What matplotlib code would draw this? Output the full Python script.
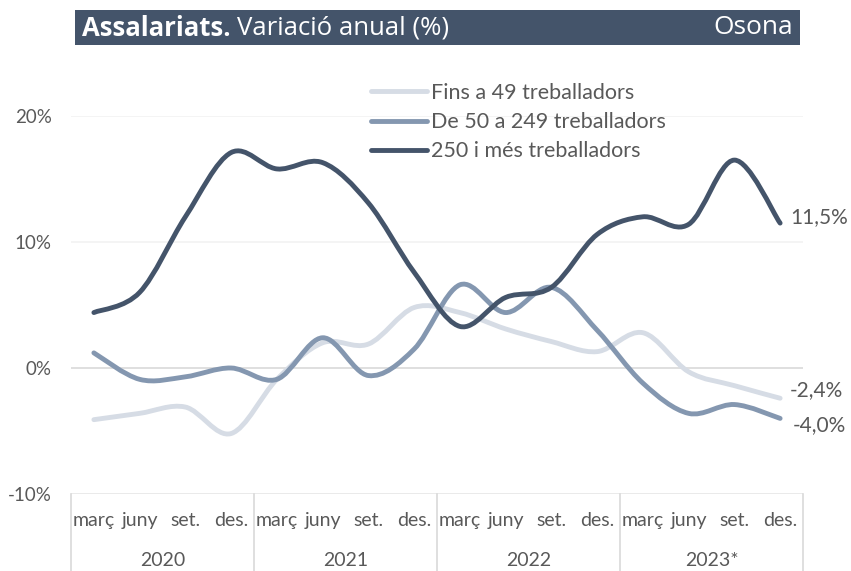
import matplotlib
matplotlib.use("Agg")
import matplotlib.pyplot as plt
import numpy as np
from matplotlib.path import Path
from matplotlib.patches import PathPatch, Rectangle
import matplotlib.transforms as mtransforms

# data (quarterly, % annual change)
months = ['març', 'juny', 'set.', 'des.']
years = ['2020', '2021', '2022', '2023*']
fins_49 = [-4.1, -3.6, -3.1, -5.2, -0.9, 2.0, 1.9, 4.8, 4.4, 3.1, 2.1, 1.3, 2.8, -0.3, -1.4, -2.4]
de_50_249 = [1.2, -0.9, -0.7, 0.0, -0.9, 2.4, -0.6, 1.5, 6.6, 4.4, 6.4, 3.0, -1.2, -3.6, -2.9, -4.0]
mes_250 = [4.4, 6.0, 12.0, 17.1, 15.8, 16.3, 13.1, 7.6, 3.3, 5.6, 6.4, 10.6, 12.0, 11.4, 16.5, 11.5]

series_names = ['Fins a 49 treballadors', 'De 50 a 249 treballadors', '250 i més treballadors']
series_colors = ['#D6DCE5', '#8497B0', '#44546A']

text_col = '#595959'
plt.rcParams['font.family'] = ['Lato', 'DejaVu Sans']


def smooth_path(xs, ys):
    # Excel-like smoothed line: cubic bezier through every point
    pts = np.column_stack([xs, ys]).astype(float)
    ext = np.vstack([pts[0], pts, pts[-1]])
    verts = [pts[0]]
    codes = [Path.MOVETO]
    for i in range(len(pts) - 1):
        p0, p1, p2, p3 = ext[i], ext[i + 1], ext[i + 2], ext[i + 3]
        c1 = p1 + (p2 - p0) / 6.0
        c2 = p2 - (p3 - p1) / 6.0
        verts += [c1, c2, p2]
        codes += [Path.CURVE4] * 3
    return Path(verts, codes)


fig = plt.figure(figsize=(8.51, 5.71), dpi=100)
W, H = 851, 571
ax = fig.add_axes([71 / W, 1 - 494 / H, 732 / W, 378 / H])

x = np.arange(len(mes_250))
ax.set_xlim(-0.5, len(x) - 0.5)
ax.set_ylim(-10, 20)

# gridlines
for v in [10, 20]:
    ax.axhline(v, color='#F2F2F2', lw=1.2, zorder=1)
ax.axhline(0, color='#D9D9D9', lw=1.2, zorder=1)
ax.axhline(-10, color='#E6E6E6', lw=1.2, zorder=1)

handles = []
for vals, name, col in zip([fins_49, de_50_249, mes_250], series_names, series_colors):
    patch = PathPatch(smooth_path(x, vals), fill=False, edgecolor=col, lw=3.5,
                      capstyle='round', joinstyle='round', zorder=3)
    ax.add_patch(patch)
    h, = ax.plot([], [], color=col, lw=3.5, solid_capstyle='round', label=name)
    handles.append(h)

for s in ax.spines.values():
    s.set_visible(False)

ax.set_yticks([-10, 0, 10, 20])
ax.set_yticklabels(['-10%', '0%', '10%', '20%'])
ax.tick_params(axis='y', length=0, pad=14, labelsize=13.5, labelcolor=text_col)

ax.set_xticks(x)
ax.set_xticklabels(months * len(years))
ax.tick_params(axis='x', length=0, pad=13, labelsize=14, labelcolor=text_col)

# year labels and separators
trans = mtransforms.blended_transform_factory(ax.transData, ax.transAxes)
for k, yr in enumerate(years):
    ax.text(k * 4 + 1.5, -0.176, yr, transform=trans, ha='center', va='center',
            fontsize=14, color=text_col)
for k in range(len(years) + 1):
    ax.plot([k * 4 - 0.5, k * 4 - 0.5], [0, -0.21], transform=trans, color='#D9D9D9',
            lw=1.2, clip_on=False)

# end labels
end_offsets = [(7, 6), (9, -5), (7, 4)]
for vals, off in zip([fins_49, de_50_249, mes_250], end_offsets):
    ax.annotate(f"{vals[-1]:.1f}%".replace('.', ','), (x[-1], vals[-1]),
                xytext=off, textcoords='offset points', ha='left', va='center',
                fontsize=15, color=text_col)

leg = fig.legend(handles=handles, loc='upper left', bbox_to_anchor=(371 / W, 1 - 83 / H),
                 frameon=False, fontsize=15.5, handlelength=2.6, handletextpad=0.2,
                 labelspacing=0.42, borderpad=0, borderaxespad=0)
for t in leg.get_texts():
    t.set_color(text_col)

# title banner
fig.patches.append(Rectangle((75 / W, 1 - 45 / H), 725 / W, 35 / H, transform=fig.transFigure,
                             facecolor='#44546A', edgecolor='none'))
t1 = fig.text(82 / W, 1 - 28 / H, 'Assalariats.', color='white', fontsize=18.5,
              fontweight='bold', va='center', ha='left', family=['Open Sans', 'DejaVu Sans'])
renderer = fig.canvas.get_renderer()
bb = t1.get_window_extent(renderer)
fig.text(bb.x1 / W + 6 / W, 1 - 28 / H, 'Variació anual (%)', color='white', fontsize=18.5,
         va='center', ha='left', family=['Open Sans', 'DejaVu Sans'])
fig.text(793 / W, 1 - 28 / H, 'Osona', color='white', fontsize=19, va='center', ha='right',
         family=['Open Sans', 'DejaVu Sans'])

fig.savefig('out.png', dpi=100)
